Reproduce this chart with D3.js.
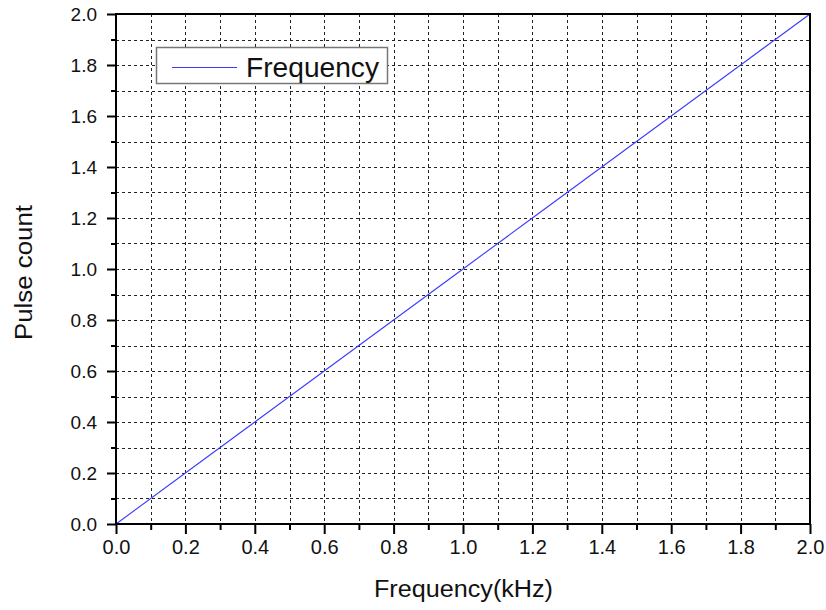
<!DOCTYPE html>
<html><head><meta charset="utf-8">
<script src="https://cdn.jsdelivr.net/npm/d3@7"></script>
<style>body{margin:0;background:#fff}svg{display:block}text{font-family:Arial,"Liberation Sans",sans-serif}</style>
</head><body><svg id="c" width="826" height="610"></svg>
<script>
const freqX = [0.0, 0.2, 0.4, 0.6, 0.8, 1.0, 1.2, 1.4, 1.6, 1.8, 2.0];
const pulseY = [0.0, 0.2, 0.4, 0.6, 0.8, 1.0, 1.2, 1.4, 1.6, 1.8, 2.0];
const majorTicks = [0.0, 0.2, 0.4, 0.6, 0.8, 1.0, 1.2, 1.4, 1.6, 1.8, 2.0];
const minorTicks = [0.1, 0.3, 0.5, 0.7, 0.9, 1.1, 1.3, 1.5, 1.7, 1.9];
const seriesName = "Frequency";
const xTitle = "Frequency(kHz)";
const yTitle = "Pulse count";

const svg = d3.select("#c");
const L = 116, R = 810, T = 14, B = 524;
const x = d3.scaleLinear().domain([0, 2]).range([L, R]);
const y = d3.scaleLinear().domain([0, 2]).range([B, T]);

const grid = svg.append("g").attr("stroke", "#222").attr("stroke-width", 1).attr("stroke-dasharray", "3,3");
[...majorTicks, ...minorTicks].filter(v => v > 0 && v < 2).forEach(v => {
  grid.append("line").attr("x1", Math.round(x(v)) + 0.5).attr("x2", Math.round(x(v)) + 0.5).attr("y1", T).attr("y2", B);
  grid.append("line").attr("y1", Math.round(y(v)) + 0.5).attr("y2", Math.round(y(v)) + 0.5).attr("x1", L).attr("x2", R);
});

// legend
const lg = svg.append("g");
lg.append("rect").attr("x", 156.5).attr("y", 47.5).attr("width", 231).attr("height", 36)
  .attr("fill", "#fff").attr("stroke", "#777").attr("stroke-width", 1.5);
lg.append("line").attr("x1", 172).attr("x2", 237).attr("y1", 67.5).attr("y2", 67.5).attr("stroke", "#3a3aff").attr("stroke-width", 1.2);
lg.append("text").attr("x", 246).attr("y", 77).attr("font-size", 28).attr("fill", "#111")
  .attr("textLength", 133).attr("lengthAdjust", "spacingAndGlyphs").text(seriesName);

// line
svg.append("path").datum(freqX.map((v, i) => [v, pulseY[i]]))
  .attr("fill", "none").attr("stroke", "#3a3aff").attr("stroke-width", 1.1)
  .attr("d", d3.line().x(d => x(d[0])).y(d => y(d[1])));

// axes
const xAx = d3.axisBottom(x).tickValues(majorTicks).tickFormat(d3.format(".1f")).tickSize(10).tickPadding(6);
const yAx = d3.axisLeft(y).tickValues(majorTicks).tickFormat(d3.format(".1f")).tickSize(9).tickPadding(10);
const gx = svg.append("g").attr("transform", `translate(0,${B})`).call(xAx);
const gy = svg.append("g").attr("transform", `translate(${L},0)`).call(yAx);
svg.append("g").attr("transform", `translate(0,${B})`).call(d3.axisBottom(x).tickValues(minorTicks).tickSize(6).tickFormat(""));
svg.append("g").attr("transform", `translate(${L},0)`).call(d3.axisLeft(y).tickValues(minorTicks).tickSize(5).tickFormat(""));
svg.selectAll(".domain").remove();
svg.selectAll(".tick line").attr("stroke", "#000").attr("stroke-width", 2);
gx.selectAll("text").attr("font-size", 20).attr("fill", "#111").attr("font-family", "Arial, Liberation Sans, sans-serif");
gy.selectAll("text").attr("font-size", 19).attr("fill", "#111").attr("font-family", "Arial, Liberation Sans, sans-serif");

svg.append("rect").attr("x", L).attr("y", T).attr("width", R - L).attr("height", B - T)
  .attr("fill", "none").attr("stroke", "#000").attr("stroke-width", 2);

svg.append("text").attr("x", 463.5).attr("y", 597).attr("text-anchor", "middle").attr("font-size", 23).attr("fill", "#111")
  .attr("textLength", 179).attr("lengthAdjust", "spacingAndGlyphs").text(xTitle);
svg.append("text").attr("transform", `translate(32,272.5) rotate(-90)`).attr("text-anchor", "middle").attr("font-size", 23).attr("fill", "#111")
  .attr("textLength", 135).attr("lengthAdjust", "spacingAndGlyphs").text(yTitle);
</script></body></html>
